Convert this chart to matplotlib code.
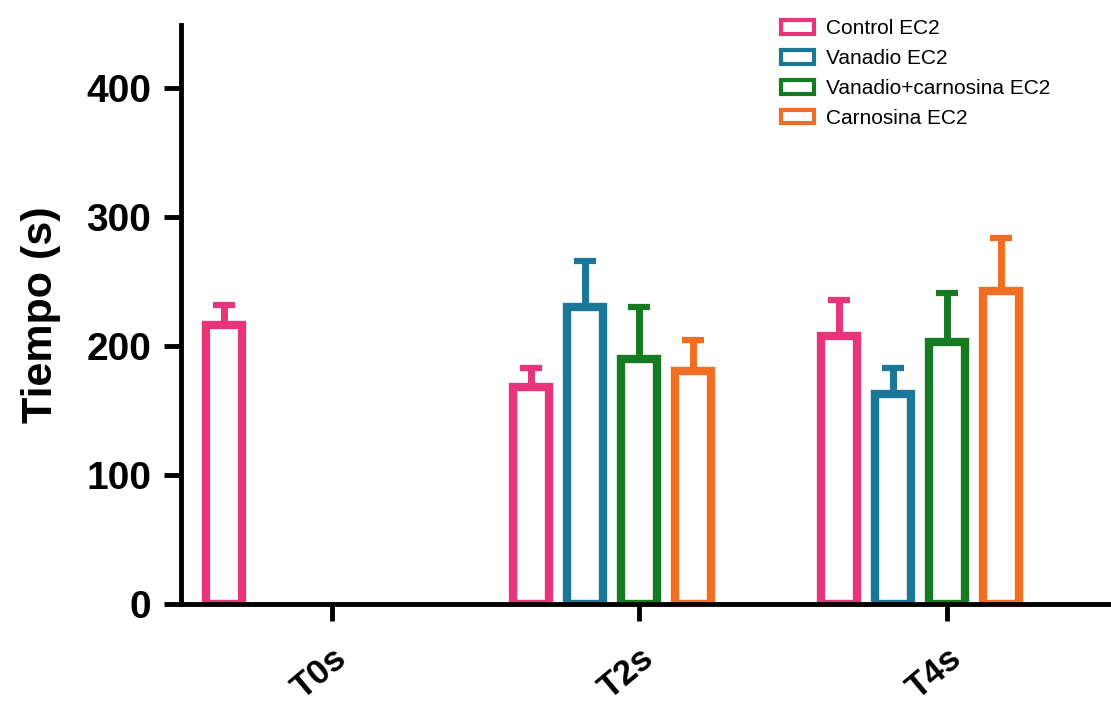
import numpy as np
import matplotlib
matplotlib.use("Agg")
import matplotlib.pyplot as plt
from matplotlib.patches import Patch
from matplotlib.transforms import ScaledTranslation

plt.rcParams['font.family'] = ['Liberation Sans', 'DejaVu Sans']

groups = ["T0s", "T2s", "T4s"]
series = ["Control EC2", "Vanadio EC2", "Vanadio+carnosina EC2", "Carnosina EC2"]
colors = ["#E8347A", "#1A7896", "#157A22", "#F06E22"]

# mean values, nan = no bar
means = [
    [216, 168, 208],
    [np.nan, 230, 163],
    [np.nan, 190, 203],
    [np.nan, 181, 243],
]
# upper error (SEM)
errs = [
    [16, 15, 28],
    [np.nan, 36, 20],
    [np.nan, 40, 38],
    [np.nan, 24, 41],
]

W, H = 1111, 711
fig = plt.figure(figsize=(W / 100, H / 100), dpi=100)
ax = fig.add_axes([180.6 / W, 1 - 604 / H, 1 - 180.6 / W, (604 - 25) / H])

x = np.arange(len(groups))
step = 0.1757
bw = 0.117
for j in range(len(series)):
    xs = x + (j - 2) * step
    m = np.array(means[j], dtype=float)
    e = np.array(errs[j], dtype=float)
    ok = ~np.isnan(m)
    ax.bar(xs[ok], m[ok], width=bw, facecolor="white", edgecolor=colors[j],
           linewidth=6, zorder=2)
    ax.errorbar(xs[ok], m[ok], yerr=[np.zeros(ok.sum()), e[ok]], fmt="none",
                ecolor=colors[j], elinewidth=5, capsize=8, capthick=4.5, zorder=1)

ax.set_xlim(-0.4927, 2.535)
ax.set_ylim(0, 449)
ax.set_yticks([0, 100, 200, 300, 400])
ax.set_xticks(x)
ax.set_xticklabels(groups, rotation=40, ha="right", rotation_mode="anchor",
                   fontsize=25, fontweight="bold")
shift = ScaledTranslation(-0.06, -0.03, fig.dpi_scale_trans)
for lab in ax.get_xticklabels():
    lab.set_transform(lab.get_transform() + shift)
for lab in ax.get_yticklabels():
    lab.set_fontsize(28)
    lab.set_fontweight("bold")
ax.set_ylabel("Tiempo (s)", fontsize=31, fontweight="bold", labelpad=18)

for s in ["top", "right"]:
    ax.spines[s].set_visible(False)
for s in ["left", "bottom"]:
    ax.spines[s].set_linewidth(3.5)
ax.tick_params(axis="both", width=3.5, length=12, pad=9)
ax.tick_params(axis="x", pad=15)

handles = [Patch(facecolor="white", edgecolor=c, linewidth=3) for c in colors]
fig.legend(handles, series, loc="upper left", bbox_to_anchor=(773 / W, 1 - 11 / H),
           frameon=False, fontsize=15, handlelength=1.55, handleheight=0.65,
           handletextpad=0.6, labelspacing=0.52, borderaxespad=0)

fig.savefig("out.png", dpi=100)
